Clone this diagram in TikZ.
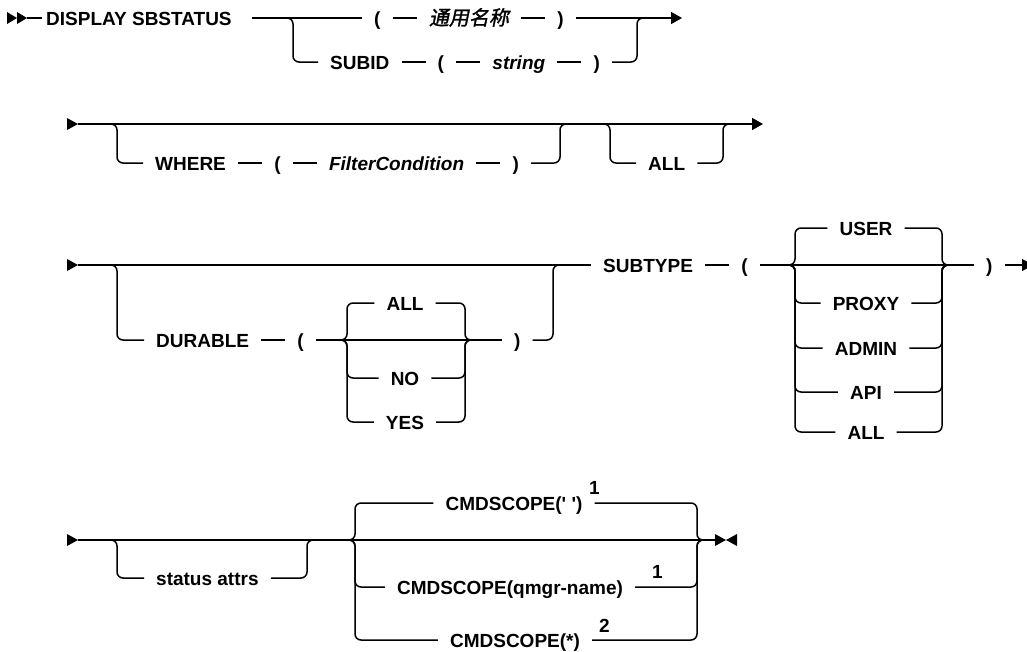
\documentclass[tikz,border=0pt]{standalone}
\usepackage{fontspec}
\setmainfont{Liberation Sans}
\newfontfamily\cjkfont{Noto Sans CJK SC}[FakeSlant=0.2,FakeBold=1.5]
\usetikzlibrary{positioning,arrows.meta}
\newcommand{\railfont}{\fontsize{19}{22}\selectfont\bfseries}
\tikzset{
  rail/.style={line width=1.5pt, rounded corners=6pt},
  tok/.style={font=\railfont, inner xsep=12pt, inner ysep=0pt, text height=14pt, text depth=0pt},
  var/.style={tok, font=\railfont\itshape},
  fnote/.style={font=\fontsize{19}{20}\selectfont\bfseries, inner sep=0pt, anchor=base west},
  tip/.style={-{Triangle[length=11pt,width=12pt]}},
}
\begin{document}
\begin{tikzpicture}[x=1pt,y=-1pt]
  \useasboundingbox (0,0) rectangle (1027,651);
  % Row 1: command name
  \fill (7,12) -- (17,18) -- (7,24) -- cycle;
  \fill (17,12) -- (27,18) -- (17,24) -- cycle;
  \node[tok, inner xsep=4pt, anchor=west] (disp) at (42,18) {DISPLAY SBSTATUS};
  \draw[rail] (27,18) -- (disp.west);
  \coordinate (s1) at (252,18);
  \coordinate (e1) at (682,18);
  % generic name
  \node[tok, anchor=west] (lp1) at (362,18) {(};
  \node[tok, right=24pt of lp1, font=\cjkfont\fontsize{20}{22}\selectfont] (gname) {通用名称};
  \node[tok, right=24pt of gname] (rp1) {)};
  \draw[rail] (s1) -- (lp1.west);
  \draw[rail] (lp1.east) -- (gname.west);
  \draw[rail] (gname.east) -- (rp1.west);
  \draw[rail, tip] (rp1.east) -- (e1);
  % SUBID branch
  \node[tok, anchor=west] (subid) at (318,62) {SUBID};
  \node[tok, right=24pt of subid] (lp2) {(};
  \node[var, right=24pt of lp2] (str) {string};
  \node[tok, right=24pt of str] (rp2) {)};
  \draw[rail] (285,18) -- (293,18) -- (293,62) -- (subid.west);
  \draw[rail] (subid.east) -- (lp2.west);
  \draw[rail] (lp2.east) -- (str.west);
  \draw[rail] (str.east) -- (rp2.west);
  \draw[rail] (rp2.east) -- (637,62) -- (637,18) -- (645,18);

  % Row 2: WHERE and ALL
  \fill (67,118) -- (78,124) -- (67,130) -- cycle;
  \coordinate (s2) at (78,124);
  \coordinate (e2) at (763,124);
  \draw[rail, tip] (s2) -- (e2);
  \node[tok, anchor=west] (where) at (143,163) {WHERE};
  \node[tok, right=24pt of where] (lp3) {(};
  \node[var, right=24pt of lp3] (filt) {FilterCondition};
  \node[tok, right=24pt of filt] (rp3) {)};
  \draw[rail] (109,124) -- (117,124) -- (117,163) -- (where.west);
  \draw[rail] (where.east) -- (lp3.west);
  \draw[rail] (lp3.east) -- (filt.west);
  \draw[rail] (filt.east) -- (rp3.west);
  \draw[rail] (rp3.east) -- (560,163) -- (560,124) -- (568,124);
  \node[tok, anchor=west] (all1) at (636,163) {ALL};
  \draw[rail] (602,124) -- (610,124) -- (610,163) -- (all1.west);
  \draw[rail] (all1.east) -- (723,163) -- (723,124) -- (731,124);

  % Row 3: DURABLE and SUBTYPE
  \fill (67,259) -- (78,265) -- (67,271) -- cycle;
  \coordinate (s3) at (78,265);
  \node[tok, anchor=west] (subtype) at (591,265) {SUBTYPE};
  \draw[rail] (s3) -- (subtype.west);
  \node[tok, anchor=west] (dur) at (144,340) {DURABLE};
  \node[tok, right=24pt of dur] (lp4) {(};
  \node[tok, anchor=west] (rp4) at (502,340) {)};
  \draw[rail] (109,265) -- (117,265) -- (117,340) -- (dur.west);
  \draw[rail] (dur.east) -- (lp4.west);
  \draw[rail] (lp4.east) -- (rp4.west);
  \draw[rail] (rp4.east) -- (553,340) -- (553,265) -- (561,265);
  \foreach \nm/\y/\t in {dall/303/ALL, dno/378/NO, dyes/422/YES}{
    \node[tok] (\nm) at (405,\y) {\t};
    \draw[rail] (339,340) -- (347,340) -- (347,\y) -- (\nm.west);
    \draw[rail] (\nm.east) -- (465,\y) -- (465,340) -- (473,340);
  }
  % subtype values
  \node[tok, right=24pt of subtype] (lp5) {(};
  \node[tok, anchor=west] (rp5) at (974,265) {)};
  \coordinate (e3) at (1033,265);
  \draw[rail] (subtype.east) -- (lp5.west);
  \draw[rail] (lp5.east) -- (rp5.west);
  \draw[rail, tip] (rp5.east) -- (e3);
  \foreach \nm/\y/\t in {user/228/USER, proxy/303/PROXY, admin/348/ADMIN,
                         api/392/API, sall/432/ALL}{
    \node[tok] (\nm) at (866,\y) {\t};
    \draw[rail] (787,265) -- (795,265) -- (795,\y) -- (\nm.west);
    \draw[rail] (\nm.east) -- (942,\y) -- (942,265) -- (950,265);
  }

  % Row 4: status attrs and CMDSCOPE
  \fill (67,534) -- (78,540) -- (67,546) -- cycle;
  \coordinate (s4) at (78,540);
  \coordinate (e4) at (715,540);
  \draw[rail] (s4) -- (e4);
  \node[tok, anchor=west] (attrs) at (144,578) {status attrs};
  \draw[rail] (109,540) -- (117,540) -- (117,578) -- (attrs.west);
  \draw[rail] (attrs.east) -- (307,578) -- (307,540) -- (315,540);
  \foreach \nm/\x/\y/\t in {cs1/514/503/CMDSCOPE(\textquotesingle\ \textquotesingle),
                            cs2/510/587/CMDSCOPE(qmgr-name),
                            cs3/515/640/CMDSCOPE(*)}{
    \node[tok] (\nm) at (\x,\y) {\t};
    \draw[rail] (347,540) -- (355,540) -- (355,\y) -- (\nm.west);
    \draw[rail] (\nm.east) -- (697,\y) -- (697,540) -- (705,540);
  }
  % footnote marks
  \node[fnote] (fn1) at (589,494) {1};
  \node[fnote] (fn2) at (652,578) {1};
  \node[fnote] (fn3) at (599,632) {2};
  % end mark
  \fill (e4) -- (726,540) -- (715,534) -- (715,546) -- (726,540) -- cycle;
  \fill (737,534) -- (726,540) -- (737,546) -- cycle;
\end{tikzpicture}
\end{document}
